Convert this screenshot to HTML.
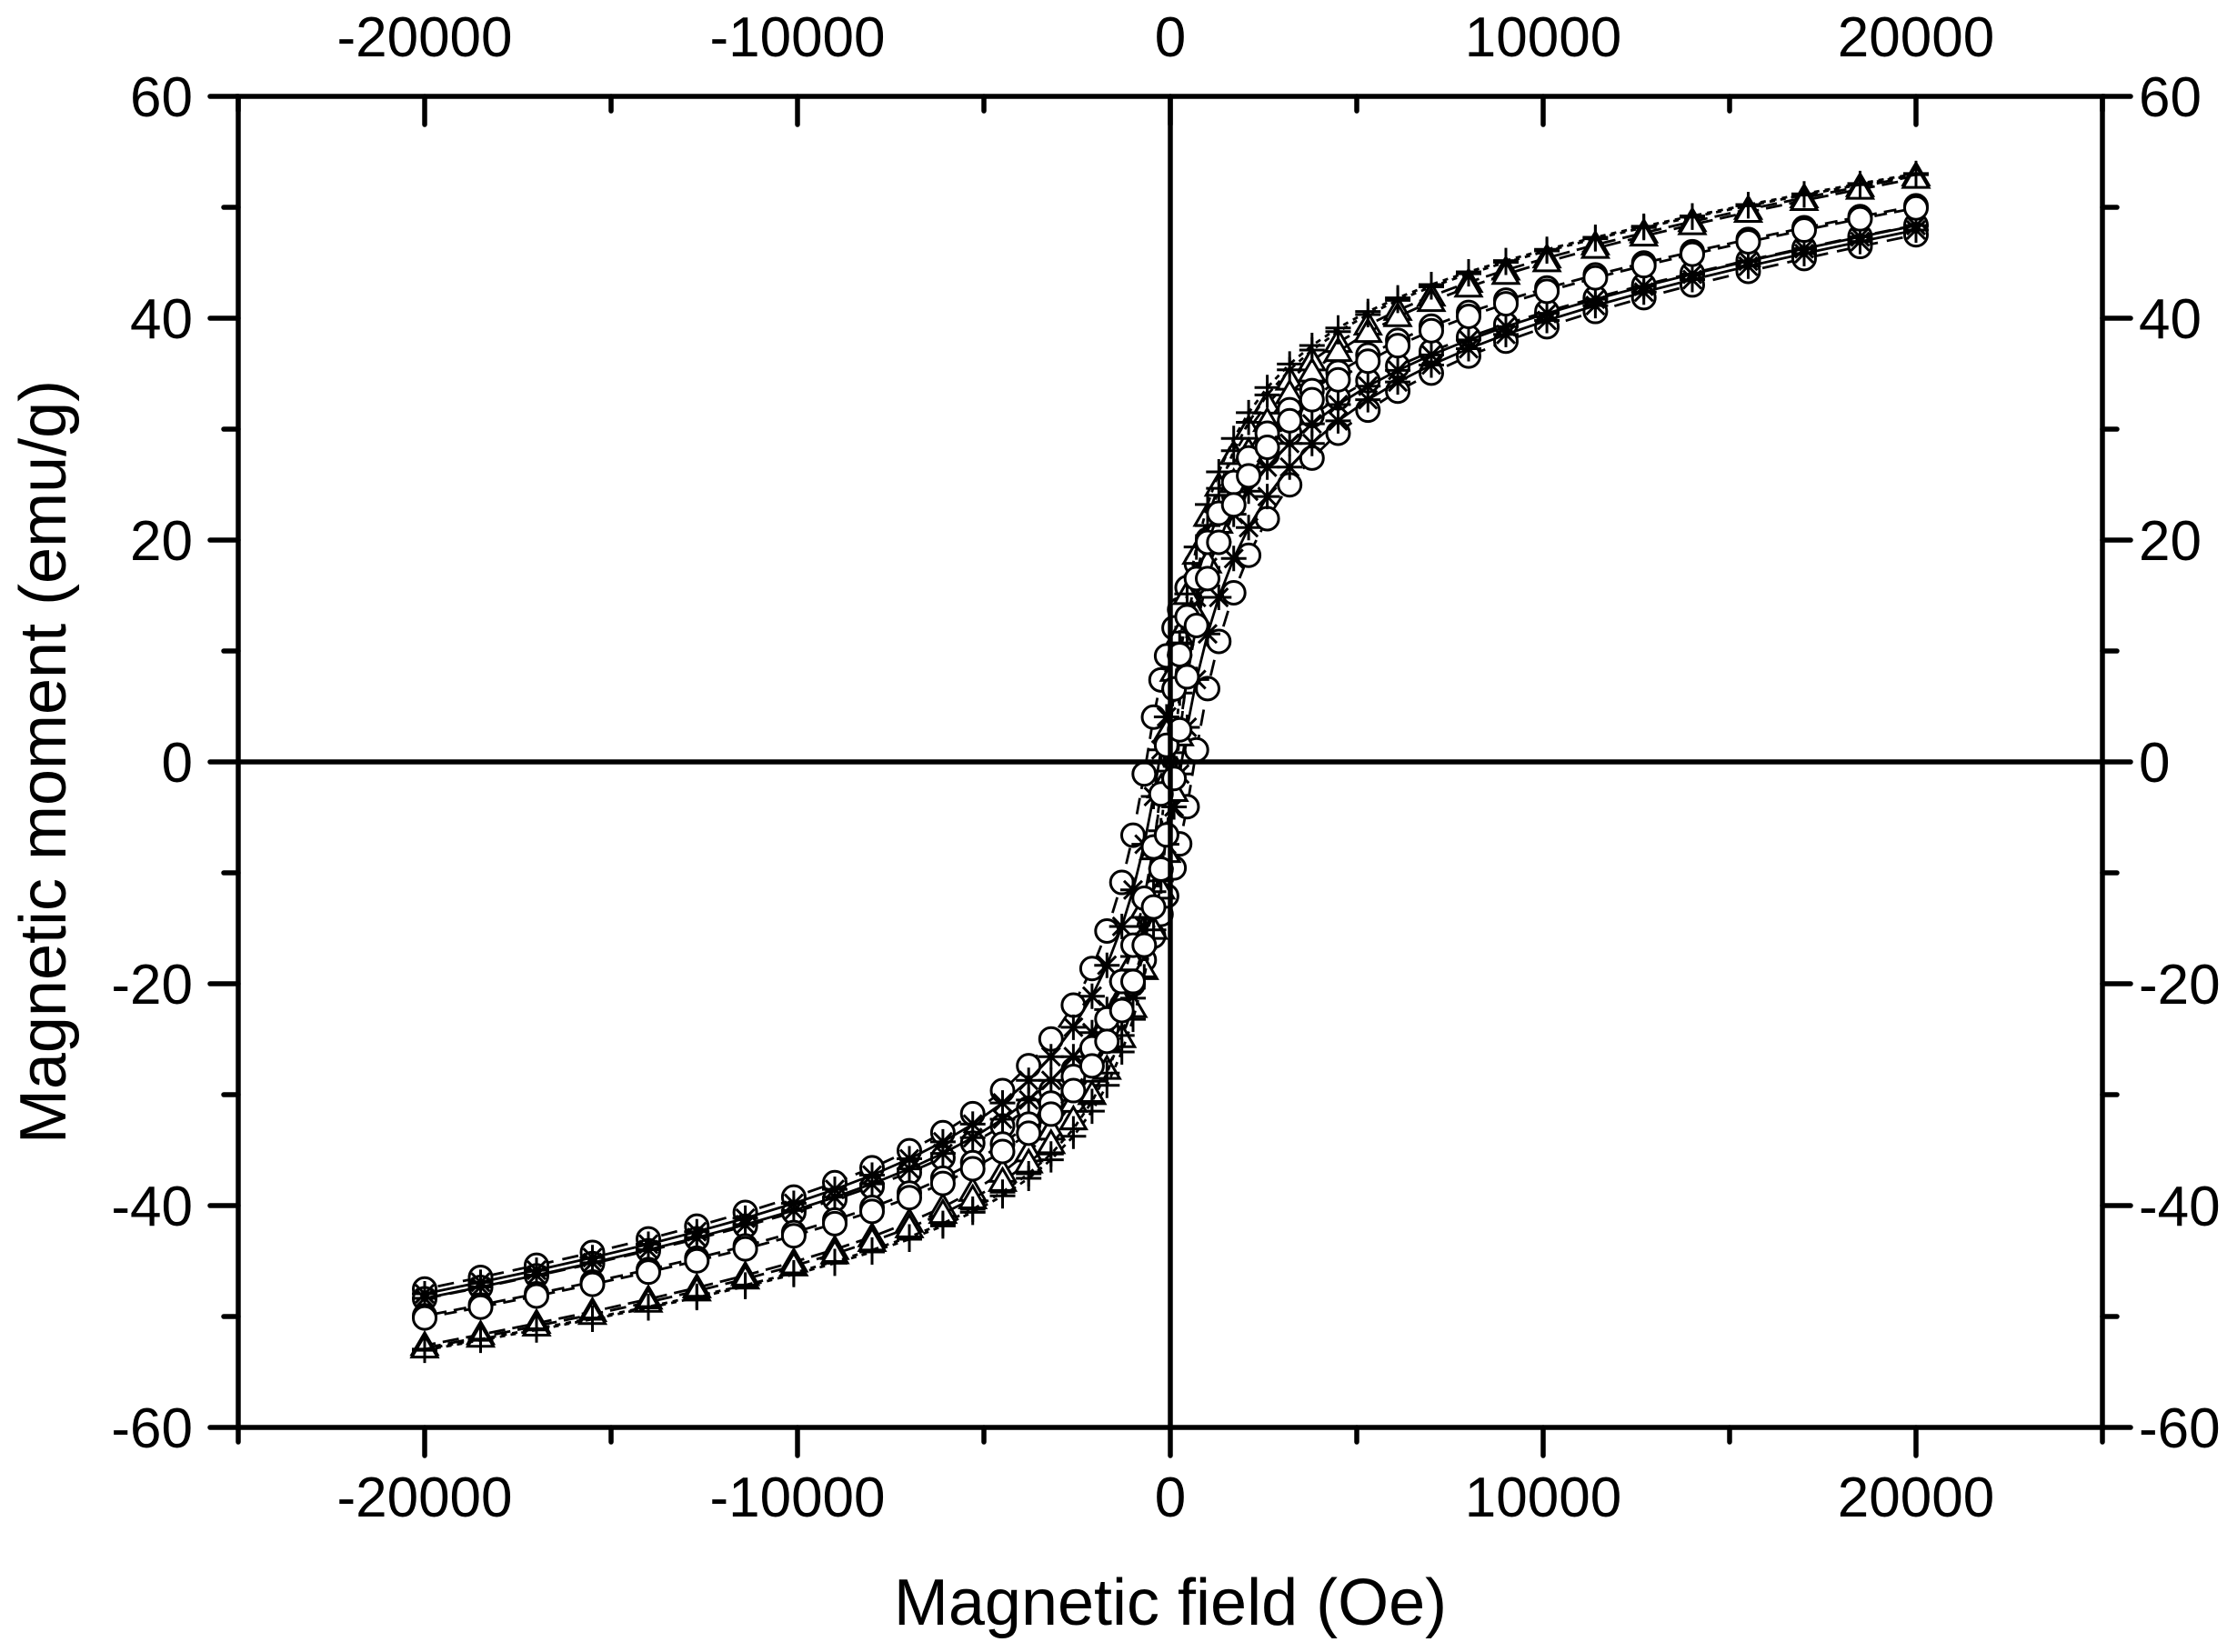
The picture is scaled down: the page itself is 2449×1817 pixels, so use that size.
<!DOCTYPE html>
<html><head><meta charset="utf-8"><style>
html,body{margin:0;padding:0;background:#fff;}
svg{display:block;}
text{font-family:"Liberation Sans",Arial,sans-serif;fill:#000;}
</style></head><body>
<svg id="s" width="2449" height="1817" viewBox="0 0 2449 1817" xmlns="http://www.w3.org/2000/svg">
<rect width="2449" height="1817" fill="#fff"/>
<g id="data"></g>
<g id="axes" stroke="#000" stroke-width="5.5" fill="none" stroke-linecap="round">
<rect x="262" y="106" width="2050" height="1464"/>
<line x1="1287" y1="106" x2="1287" y2="1570"/>
<line x1="262" y1="838" x2="2312" y2="838"/>
</g>
<g id="ticks" stroke="#000" stroke-width="5.5" stroke-linecap="round"></g>
<g id="labels" font-size="62"></g>
<text x="1287" y="1787" font-size="72" text-anchor="middle">Magnetic field (Oe)</text>
<text transform="translate(72,838) rotate(-90)" font-size="72" text-anchor="middle">Magnetic moment (emu/g)</text>
</svg>
<script>
var NS="http://www.w3.org/2000/svg";
function el(p,t,a,txt){var e=document.createElementNS(NS,t);for(var k in a)e.setAttribute(k,a[k]);if(txt!==undefined)e.textContent=txt;p.appendChild(e);return e;}
function X(h){return 1287+h*0.041;}
function Y(m){return 838-m*12.2;}
var tk=document.getElementById('ticks'),lb=document.getElementById('labels');
for(var h=-25000;h<=25000;h+=5000){
  var maj=(h%10000===0);var L=maj?31:16;
  el(tk,'line',{x1:X(h),y1:1570,x2:X(h),y2:1570+L});
  el(tk,'line',{x1:X(h),y1:106,x2:X(h),y2:106+L});
  if(maj&&Math.abs(h)<=20000){
    el(lb,'text',{x:X(h),y:1668,'text-anchor':'middle'},h);
    el(lb,'text',{x:X(h),y:62,'text-anchor':'middle'},h);
  }
}
for(var m=-60;m<=60;m+=10){
  var maj=(m%20===0);var L=maj?31:16;
  el(tk,'line',{x1:262,y1:Y(m),x2:262-L,y2:Y(m)});
  el(tk,'line',{x1:2312,y1:Y(m),x2:2312+L,y2:Y(m)});
  if(maj){
    el(lb,'text',{x:212,y:Y(m)+22,'text-anchor':'end'},m);
    el(lb,'text',{x:2352,y:Y(m)+22,'text-anchor':'start'},m);
  }
}
var hs=[20000,18500,17000,15500,14000,12700,11400,10100,9000,8000,7000,6100,5300,4500,3800,3200,2600,2100,1700,1300,1000,700,450,250,100];
var Hdesc=hs.slice();hs.slice().reverse().forEach(function(v){Hdesc.push(-v);});
var K=1.065;
var series=[
 {ms:38.8,chi:0.00048,b:1900,hc:650,mk:'o',dash:'18,10'},
 {ms:39.0,chi:0.00048,b:1900,hc:300,mk:'*',dash:''},
 {ms:42.5,chi:0.00048,b:1300,hc:180,mk:'^',dash:'18,8'},
 {ms:43.0,chi:0.00045,b:1100,hc:80,mk:'+',dash:'6,6'},
 {ms:40.0,chi:0.00048,b:1400,hc:150,mk:'o',dash:'14,8'}
];
var g=document.getElementById('data');
series.forEach(function(s){
  function f(h){return K*(s.ms*h/(Math.abs(h)+s.b)+s.chi*h);}
  [1,-1].forEach(function(dir){
    var pts=[];
    Hdesc.forEach(function(h){var H=dir*h;var m=f(H+dir*s.hc);pts.push([X(H),Y(m)]);});
    el(g,'polyline',{points:pts.map(function(p){return p[0].toFixed(1)+','+p[1].toFixed(1);}).join(' '),fill:'none',stroke:'#000','stroke-width':2.8,'stroke-dasharray':s.dash});
    pts.forEach(function(p){
      var x=p[0],y=p[1];
      if(s.mk==='o')el(g,'circle',{cx:x,cy:y,r:12.5,fill:'#fff',stroke:'#000','stroke-width':3});
      else if(s.mk==='^')el(g,'polygon',{points:(x)+','+(y-14)+' '+(x-14)+','+(y+10)+' '+(x+14)+','+(y+10),fill:'#fff',stroke:'#000','stroke-width':3});
      else if(s.mk==='+')el(g,'path',{d:'M'+(x-14)+' '+y+'h28M'+x+' '+(y-14)+'v28',stroke:'#000','stroke-width':3});
      else el(g,'path',{d:'M'+(x-14)+' '+y+'h28M'+x+' '+(y-14)+'v28M'+(x-10)+' '+(y-10)+'l20 20M'+(x+10)+' '+(y-10)+'l-20 20',stroke:'#000','stroke-width':3});
    });
  });
});
</script>
</body></html>
